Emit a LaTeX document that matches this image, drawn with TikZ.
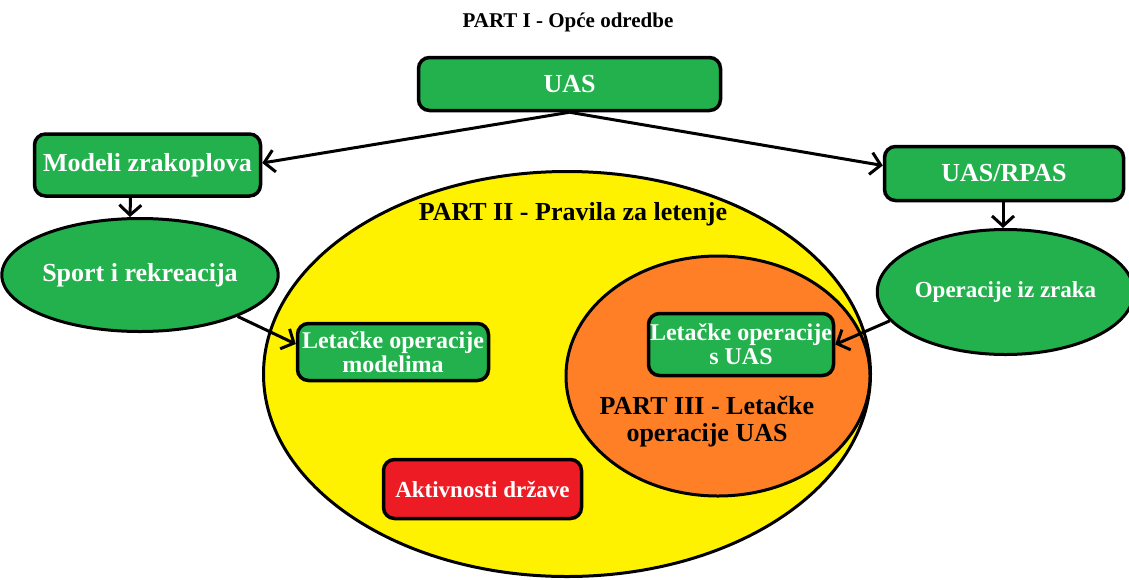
\documentclass[tikz,border=0pt]{standalone}
\usepackage{fontspec}
\setmainfont{Liberation Serif}
\usetikzlibrary{shapes.geometric,arrows.meta}
\definecolor{uasgreen}{HTML}{22B14C}
\definecolor{partyellow}{HTML}{FFF200}
\definecolor{partorange}{HTML}{FF7F27}
\definecolor{statered}{HTML}{ED1C24}

\begin{document}
\begin{tikzpicture}[x=1pt,y=-1pt,
		box/.style={draw,line width=3.5pt,rounded corners=11pt,fill=uasgreen,text=white,inner sep=0pt,align=center,font=\fontsize{26}{28}\selectfont\bfseries},
		oval/.style={ellipse,draw,line width=3pt,fill=uasgreen,text=white,inner sep=0pt,font=\fontsize{26}{28}\selectfont\bfseries},
		arr/.style={line width=3pt,-{Straight Barb[length=10pt,width=22pt]}}]
		\useasboundingbox (0,0) rectangle (1129,579);
		% parts as ellipses
		\node[ellipse,draw,line width=3pt,fill=partyellow,minimum width=607pt,minimum height=405pt] (part2) at (567,374) {};
		\node[ellipse,draw,line width=3pt,fill=partorange,minimum width=304pt,minimum height=240pt] (part3) at (718,376) {};
		\node[font=\fontsize{21}{24}\selectfont\bfseries] (title) at (568,22) {PART I - Opće odredbe};
		\node[font=\fontsize{26}{28}\selectfont\bfseries] (title2) at (573,214) {PART II - Pravila za letenje};
		\node[font=\fontsize{26}{27}\selectfont\bfseries,align=center] (title3) at (707,422) {PART III - Letačke\\operacije UAS};
		% boxes
		\node[box,minimum width=302pt,minimum height=53pt] (uas) at (569.5,84) {UAS};
		\node[box,minimum width=226pt,minimum height=62pt] (modeli) at (147.5,165) {Modeli zrakoplova};
		\node[box,minimum width=239pt,minimum height=54pt] (rpas) at (1004,173.5) {UAS/RPAS};
		\node[oval,minimum width=259pt,minimum height=113pt] (sport) at (140,275) {Sport i rekreacija};
		\node[oval,minimum width=242pt,minimum height=125pt,font=\fontsize{23}{25}\selectfont\bfseries] (zrak) at (1005.5,292) {Operacije iz zraka};
		\node[box,minimum width=191pt,minimum height=57pt,font=\fontsize{24}{24}\selectfont\bfseries] (modelima) at (393,352) {Letačke operacije\\modelima};
		\node[box,minimum width=185pt,minimum height=62pt,font=\fontsize{24}{24}\selectfont\bfseries] (suas) at (741,344.5) {Letačke operacije\\s UAS};
		\node[box,fill=statered,minimum width=198pt,minimum height=59pt,font=\fontsize{23}{25}\selectfont\bfseries] (drzava) at (482.5,489) {Aktivnosti države};
		% connectors
		\draw[arr] (uas.south) -- ([yshift=2pt]modeli.east);
		\draw[arr] (uas.south) -- ([yshift=8pt]rpas.west);
		\draw[arr] ([xshift=-17pt]modeli.south) -- ([xshift=-10pt]sport.north);
		\draw[arr] ([xshift=-1pt]rpas.south) -- ([xshift=-2.5pt]zrak.north);
		\draw[arr] (sport.-23) -- ([yshift=8pt]modelima.west);
		\draw[arr] (zrak.194) -- (suas.east);
	\end{tikzpicture}
\end{document}
